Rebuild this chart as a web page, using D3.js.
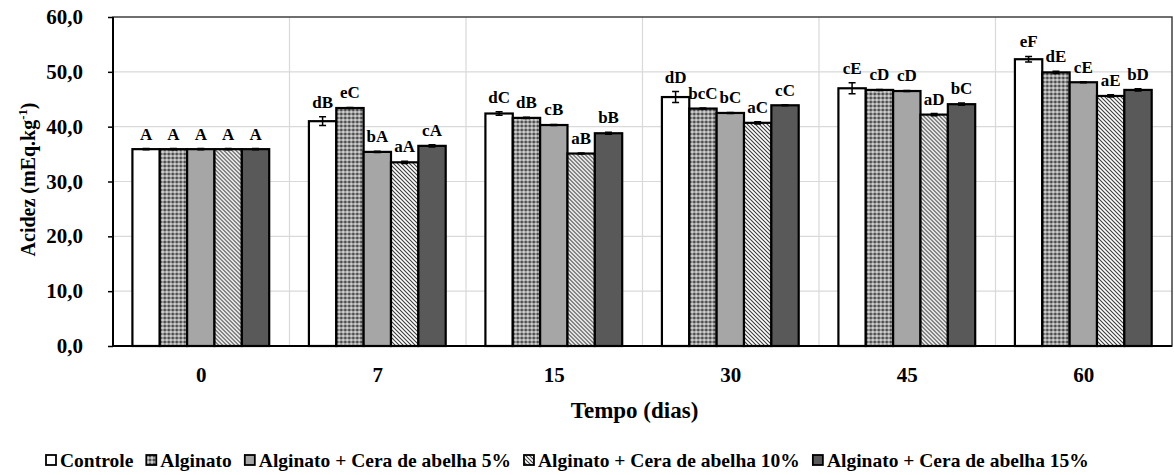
<!DOCTYPE html>
<html>
<head>
<meta charset="utf-8">
<script src="https://cdn.jsdelivr.net/npm/d3@7"></script>
</head>
<body style="margin:0">
<svg id="chart" width="1174" height="475"></svg>
<script>
// data
var days = ["0", "7", "15", "30", "45", "60"];
var seriesNames = ["Controle", "Alginato", "Alginato + Cera de abelha 5%",
                   "Alginato + Cera de abelha 10%", "Alginato + Cera de abelha 15%"];
var controle = [35.9, 41.0, 42.4, 45.4, 47.0, 52.3];
var alginato = [35.9, 43.4, 41.6, 43.3, 46.7, 49.9];
var cera5    = [35.9, 35.4, 40.3, 42.5, 46.5, 48.1];
var cera10   = [35.9, 33.5, 35.1, 40.7, 42.2, 45.6];
var cera15   = [35.9, 36.5, 38.8, 43.9, 44.1, 46.7];
var errControle = [0.1, 0.8, 0.3, 1.0, 1.0, 0.5];
var errAlginato = [0.1, 0.1, 0.1, 0.1, 0.1, 0.2];
var err5        = [0.1, 0.1, 0.1, 0.1, 0.1, 0.1];
var err10       = [0.1, 0.2, 0.1, 0.2, 0.2, 0.2];
var err15       = [0.1, 0.2, 0.2, 0.1, 0.2, 0.2];
var lblControle = ["A", "dB", "dC", "dD", "cE", "eF"];
var lblAlginato = ["A", "eC", "dB", "bcC", "cD", "dE"];
var lbl5        = ["A", "bA", "cB", "bC", "cD", "cE"];
var lbl10       = ["A", "aA", "aB", "aC", "aD", "aE"];
var lbl15       = ["A", "cA", "bB", "cC", "bC", "bD"];
var yTicks = [0, 10, 20, 30, 40, 50, 60];

var values = [controle, alginato, cera5, cera10, cera15];
var errs = [errControle, errAlginato, err5, err10, err15];
var labels = [lblControle, lblAlginato, lbl5, lbl10, lbl15];
var fills = ["#ffffff", "url(#pAlg)", "#a6a6a6", "url(#pDiag)", "#595959"];

var margin = {top: 17, right: 2, bottom: 129, left: 113},
    width = 1174 - margin.left - margin.right,
    height = 475 - margin.top - margin.bottom;

var svg = d3.select("#chart");

// text is drawn at 30px and scaled down to the wanted size
function label(parent, x, y, size, str, anchor, rot) {
  return parent.append("text")
    .attr("transform", "translate(" + x + "," + y + ")" + (rot ? " rotate(" + rot + ")" : "")
      + " scale(" + (size / 30) + ")")
    .attr("font-family", "Liberation Serif").attr("font-weight", "bold").attr("font-size", 30)
    .attr("text-anchor", anchor || "middle").attr("fill", "#000")
    .text(str);
}

// patterns
var defs = svg.append("defs");
var pa = defs.append("pattern").attr("id", "pAlg")
  .attr("patternUnits", "userSpaceOnUse").attr("width", 4).attr("height", 4);
pa.append("rect").attr("width", 4).attr("height", 4).attr("fill", "#9a9a9a");
pa.append("rect").attr("width", 2).attr("height", 2).attr("fill", "#4d4d4d");
pa.append("rect").attr("x", 2).attr("y", 2).attr("width", 2).attr("height", 2).attr("fill", "#cfcfcf");

var pd = defs.append("pattern").attr("id", "pDiag")
  .attr("patternUnits", "userSpaceOnUse").attr("width", 4).attr("height", 4);
pd.append("rect").attr("width", 4).attr("height", 4).attr("fill", "#fff");
pd.append("path").attr("d", "M-1,-1L5,5M-1,3L1,5M3,-1L5,1")
  .attr("stroke", "#3a3a3a").attr("stroke-width", 1.1);

var g = svg.append("g").attr("transform", "translate(" + margin.left + "," + margin.top + ")");

var x0 = d3.scaleBand().domain(days).range([0, width]).paddingInner(0).paddingOuter(0);
var x1 = d3.scaleBand().domain(d3.range(seriesNames.length))
  .range([x0.bandwidth() * 0.11, x0.bandwidth() * 0.885]).padding(0);
var y = d3.scaleLinear().domain([0, 60]).range([height, 0]);

// grid
g.append("g").selectAll("line").data(yTicks.slice(1, -1)).enter().append("line")
  .attr("x1", 0).attr("x2", width)
  .attr("y1", function(d) { return y(d); }).attr("y2", function(d) { return y(d); })
  .attr("stroke", "#d9d9d9").attr("stroke-width", 1.2);
g.append("g").selectAll("line").data(days.slice(1)).enter().append("line")
  .attr("x1", function(d) { return x0(d); }).attr("x2", function(d) { return x0(d); })
  .attr("y1", 0).attr("y2", height)
  .attr("stroke", "#d9d9d9").attr("stroke-width", 1.2);

// frame
g.append("rect").attr("width", width).attr("height", height)
  .attr("fill", "none").attr("stroke", "#404040").attr("stroke-width", 1.5);

// bars
var rows = [];
days.forEach(function(d, i) {
  values.forEach(function(v, s) {
    rows.push({day: d, s: s, v: v[i], e: errs[s][i], lbl: labels[s][i]});
  });
});

var bw = x1.bandwidth();
var bar = g.selectAll(".bar").data(rows).enter().append("g")
  .attr("transform", function(d) { return "translate(" + (x0(d.day) + x1(d.s)) + ",0)"; });

bar.append("rect")
  .attr("x", 0).attr("width", bw)
  .attr("y", function(d) { return y(d.v); })
  .attr("height", function(d) { return height - y(d.v); })
  .attr("fill", function(d) { return fills[d.s]; })
  .attr("stroke", "#000").attr("stroke-width", 2.2);

// error bars
bar.append("path")
  .attr("d", function(d) {
    var t = y(d.v + d.e), b = y(d.v - d.e), c = bw / 2;
    return "M" + c + "," + t + "V" + b + "M" + (c - 3.5) + "," + t + "H" + (c + 3.5)
      + "M" + (c - 3.5) + "," + b + "H" + (c + 3.5);
  })
  .attr("stroke", "#000").attr("stroke-width", 1.5).attr("fill", "none");

// letters above bars
bar.each(function(d) {
  label(d3.select(this), bw / 2, y(d.v + d.e) - 9, 17, d.lbl);
});

// axes
var yAxis = g.append("g").call(d3.axisLeft(y).tickValues(yTicks).tickSize(5).tickFormat(""));
yAxis.select(".domain").remove();
yAxis.selectAll(".tick line").attr("stroke", "#000").attr("stroke-width", 1.5);
yTicks.forEach(function(t) {
  label(g, -30, y(t) + 7, 21, d3.format(".1f")(t).replace(".", ","), "end");
});

var xAxis = g.append("g").attr("transform", "translate(0," + height + ")")
  .call(d3.axisBottom(x0).tickSize(0).tickFormat(""));
xAxis.select(".domain").remove();
days.forEach(function(d) {
  label(g, x0(d) + x0.bandwidth() / 2, height + 36, 21, d);
});

g.append("line").attr("x1", 0).attr("x2", 0).attr("y1", 0).attr("y2", height)
  .attr("stroke", "#000").attr("stroke-width", 2);
g.append("line").attr("x1", 0).attr("x2", width).attr("y1", height).attr("y2", height)
  .attr("stroke", "#000").attr("stroke-width", 2);

// titles
label(svg, margin.left + width / 2 - 8, 418, 23, "Tempo (dias)");

var yt = label(svg, 35, margin.top + height / 2 - 2, 20, "", "middle", -90);
yt.append("tspan").text("Acidez (mEq.kg");
yt.append("tspan").attr("dy", -12).attr("font-size", 19).text("-1");
yt.append("tspan").attr("dy", 12).text(")");

// legend
var leg = svg.append("g").attr("transform", "translate(45,467)");
var lx = 0, ls = 19.5;
seriesNames.forEach(function(n, s) {
  leg.append("rect").attr("x", lx + 1).attr("y", -12).attr("width", 10).attr("height", 10)
    .attr("fill", fills[s]).attr("stroke", "#000").attr("stroke-width", 1.8);
  var t = label(leg, lx + 15, 0, ls, n, "start");
  lx += 15 + t.node().getComputedTextLength() * ls / 30 + 12;
});
</script>
</body>
</html>
